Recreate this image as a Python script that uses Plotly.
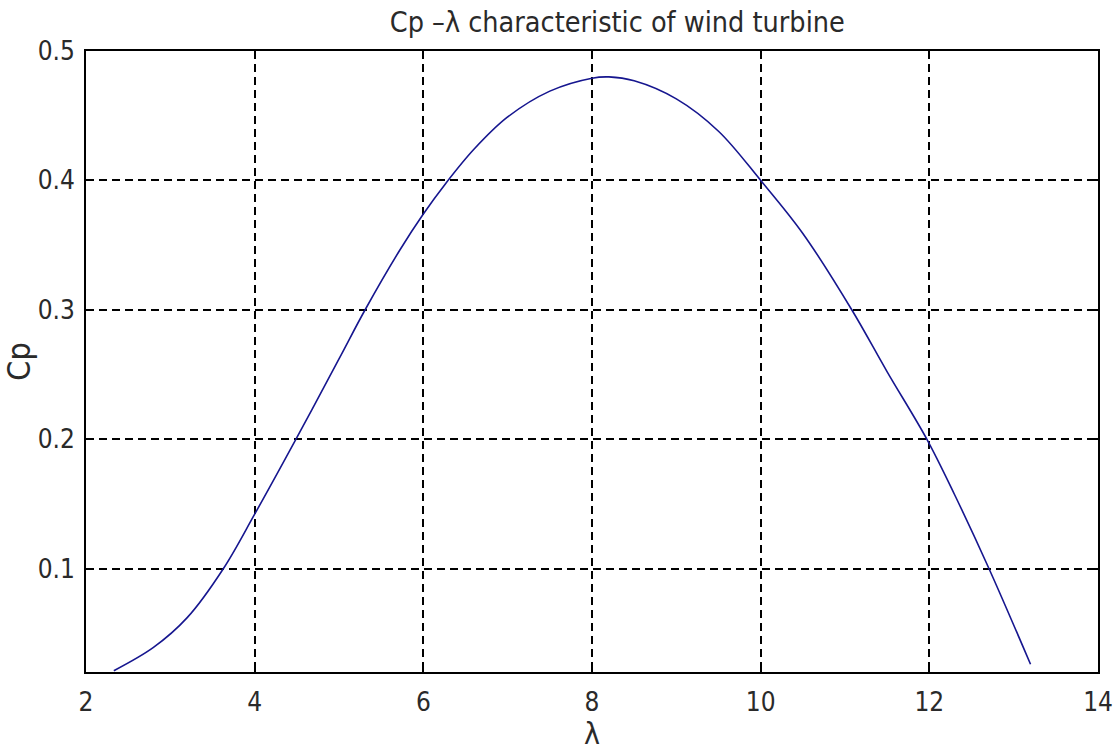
import plotly.graph_objects as go

# Data
tsr = [2.33, 2.8, 3.2, 3.63, 4.0, 4.49, 5.0, 5.31, 5.72, 6.0, 6.27, 6.6, 7.0, 7.5,
       8.0, 8.2, 8.5, 9.0, 9.5, 10.0, 10.5, 11.08, 11.5, 11.97, 12.3, 12.7, 13.2]
cp = [0.021, 0.039, 0.062, 0.1, 0.142, 0.2, 0.262, 0.3, 0.346, 0.374, 0.398, 0.424,
      0.449, 0.469, 0.479, 0.48, 0.477, 0.463, 0.438, 0.4, 0.359, 0.3, 0.252, 0.2,
      0.157, 0.101, 0.026]

x_ticks = [2, 4, 6, 8, 10, 12, 14]
y_ticks = [0.1, 0.2, 0.3, 0.4, 0.5]
y_tick_labels = ["0.1", "0.2", "0.3", "0.4", "0.5"]

FONT = "DejaVu Sans Condensed, Liberation Sans Narrow, Arial Narrow, Liberation Sans, sans-serif"

fig = go.Figure()
fig.add_trace(go.Scatter(
    x=tsr, y=cp, mode="lines",
    line=dict(color="#16168f", width=1.6, shape="spline", smoothing=1.0),
    showlegend=False,
))

axis_common = dict(
    showline=True, linecolor="black", linewidth=1.8, mirror="allticks",
    ticks="inside", ticklen=8, tickcolor="black", tickwidth=1.5,
    showgrid=True, gridcolor="black", gridwidth=1.6, griddash="8px,5px",
    zeroline=False, automargin=False,
    tickfont=dict(family=FONT, size=26, color="#2a2a2a"),
)

fig.update_layout(
    width=1116, height=751,
    margin=dict(l=86, r=18, t=51, b=79),
    paper_bgcolor="white", plot_bgcolor="white",
    title=dict(
        text="Cp \u2013\u03bb characteristic of wind turbine",
        font=dict(family=FONT, size=28.5, color="#2a2a2a"),
        x=0.525, xref="paper", xanchor="center",
        y=1 - 22 / 751, yref="container", yanchor="middle",
    ),
    xaxis=dict(
        range=[2, 14], tickvals=x_ticks,
        title=dict(text="\u03bb", font=dict(family=FONT, size=30, color="#2a2a2a"), standoff=12),
        ticklabelstandoff=6,
        **axis_common,
    ),
    yaxis=dict(
        range=[0.02, 0.5], tickvals=y_ticks, ticktext=y_tick_labels,
        title=dict(text="Cp", font=dict(family=FONT, size=32, color="#2a2a2a"), standoff=4),
        ticklabelstandoff=4,
        **axis_common,
    ),
)

fig.write_html("out.html")
